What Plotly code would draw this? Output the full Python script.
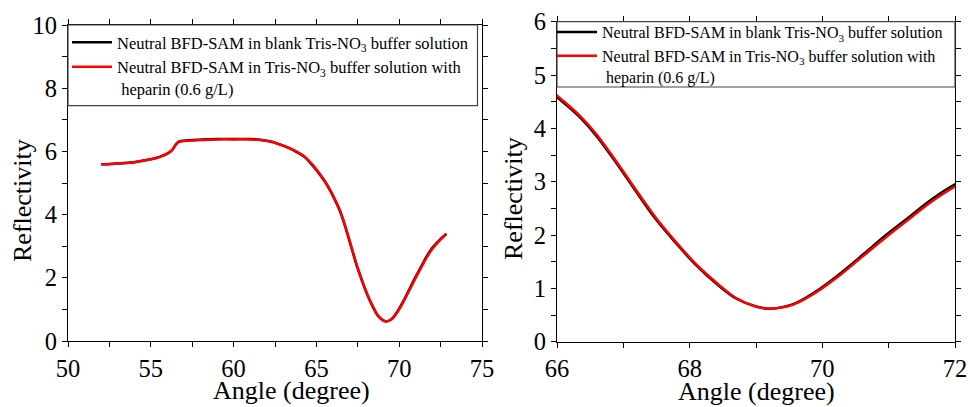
import plotly.graph_objects as go

# ---- data ----
angle = [52.0, 53.0, 54.0, 55.0, 55.5, 56.0, 56.3, 56.5, 56.7, 57.3, 58.0, 59.0, 60.0,
         61.0, 61.6, 62.3, 63.0, 63.6, 64.2, 64.7, 65.1, 65.5, 65.8, 66.1, 66.35, 66.6,
         66.9, 67.2, 67.5, 67.8, 68.1, 68.4, 68.7, 69.0, 69.2, 69.55, 69.9, 70.25, 70.6,
         70.95, 71.3, 71.65, 72.0, 72.4, 72.85]
refl_heparin = [5.59, 5.62, 5.66, 5.75, 5.82, 5.93, 6.05, 6.20, 6.30, 6.34, 6.36, 6.38, 6.38,
                6.38, 6.36, 6.30, 6.18, 6.05, 5.87, 5.62, 5.36, 5.07, 4.81, 4.51, 4.23, 3.88,
                3.37, 2.83, 2.31, 1.86, 1.45, 1.11, 0.82, 0.66, 0.62, 0.69, 0.92, 1.23, 1.59,
                1.95, 2.29, 2.63, 2.91, 3.15, 3.38]
refl_blank = [5.59, 5.62, 5.66, 5.75, 5.82, 5.93, 6.05, 6.21, 6.31, 6.35, 6.37, 6.39, 6.39,
              6.39, 6.37, 6.31, 6.18, 6.04, 5.86, 5.60, 5.34, 5.05, 4.79, 4.48, 4.20, 3.85,
              3.34, 2.80, 2.28, 1.84, 1.43, 1.09, 0.81, 0.66, 0.62, 0.70, 0.94, 1.26, 1.62,
              1.99, 2.33, 2.67, 2.95, 3.18, 3.40]

name_blank = "Neutral BFD-SAM in blank Tris-NO<sub>3</sub> buffer solution"
name_heparin = "Neutral BFD-SAM in Tris-NO<sub>3</sub> buffer solution with<br> heparin (0.6 g/L)"

# tick values / labels
x1_ticks = [50, 52.5, 55, 57.5, 60, 62.5, 65, 67.5, 70, 72.5, 75]
x1_labels = ["50", "", "55", "", "60", "", "65", "", "70", "", "75"]
y1_ticks = [0, 1, 2, 3, 4, 5, 6, 7, 8, 9, 10]
y1_labels = ["0", "", "2", "", "4", "", "6", "", "8", "", "10"]
x2_ticks = [66, 67, 68, 69, 70, 71, 72]
x2_labels = ["66", "", "68", "", "70", "", "72"]
y2_ticks = [0, 0.5, 1, 1.5, 2, 2.5, 3, 3.5, 4, 4.5, 5, 5.5, 6]
y2_labels = ["0", "", "1", "", "2", "", "3", "", "4", "", "5", "", "6"]

FONT = "Liberation Serif"
W, H = 970, 407

def px_x(p):
    return p / W

def px_y(p):
    return 1 - p / H

fig = go.Figure()

line_blank = dict(color="black", width=2.5, shape="spline", smoothing=1.0)
line_hep = dict(color="#ff0000", width=2.5, shape="spline", smoothing=1.0)

# left panel
fig.add_trace(go.Scatter(x=angle, y=refl_blank, mode="lines", name=name_blank, line=line_blank,
                         xaxis="x", yaxis="y", legend="legend"))
fig.add_trace(go.Scatter(x=angle, y=refl_heparin, mode="lines", name=name_heparin, line=line_hep,
                         xaxis="x", yaxis="y", legend="legend"))
# right panel (zoomed view of the same data)
fig.add_trace(go.Scatter(x=angle, y=refl_blank, mode="lines", name=name_blank, line=line_blank,
                         xaxis="x2", yaxis="y2", legend="legend2"))
fig.add_trace(go.Scatter(x=angle, y=refl_heparin, mode="lines", name=name_heparin, line=line_hep,
                         xaxis="x2", yaxis="y2", legend="legend2"))

axis_common = dict(showgrid=False, zeroline=False, showline=True, linecolor="black",
                   linewidth=1.3, mirror="ticks", ticks="outside", ticklen=5,
                   tickwidth=1.2, tickcolor="black",
                   tickfont=dict(family=FONT, size=24.5, color="black"))

L_left, L_right, L_top, L_bot = 68, 482, 25, 341
R_left, R_right, R_top, R_bot = 557, 955, 21.7, 341.7

fig.update_layout(
    width=W, height=H, margin=dict(l=0, r=0, t=0, b=0, autoexpand=False),
    paper_bgcolor="white", plot_bgcolor="white",
    font=dict(family=FONT, color="black"),
    xaxis=dict(domain=[px_x(L_left), px_x(L_right)], range=[50, 75],
               tickmode="array", tickvals=x1_ticks, ticktext=x1_labels, anchor="y", **axis_common),
    yaxis=dict(domain=[px_y(L_bot), px_y(L_top)], range=[0, 10],
               tickmode="array", tickvals=y1_ticks, ticktext=y1_labels, anchor="x", **axis_common),
    xaxis2=dict(domain=[px_x(R_left), px_x(R_right)], range=[66, 72],
                tickmode="array", tickvals=x2_ticks, ticktext=x2_labels, anchor="y2", **axis_common),
    yaxis2=dict(domain=[px_y(R_bot), px_y(R_top)], range=[0, 6],
                tickmode="array", tickvals=y2_ticks, ticktext=y2_labels, anchor="x2", **axis_common),
    legend=dict(x=px_x(67), y=px_y(25), xanchor="left", yanchor="top", valign="top",
                bgcolor="rgba(0,0,0,0)", borderwidth=0, itemwidth=40,
                font=dict(family=FONT, size=16.5, color="black"), tracegroupgap=0),
    legend2=dict(x=px_x(552), y=px_y(15), xanchor="left", yanchor="top", valign="top",
                 bgcolor="rgba(0,0,0,0)", borderwidth=0, itemwidth=40,
                 font=dict(family=FONT, size=16, color="black"), tracegroupgap=0),
    showlegend=True,
)

# legend boxes
fig.add_shape(type="rect", xref="paper", yref="paper",
              x0=px_x(68), x1=px_x(477.5), y0=px_y(105.7), y1=px_y(25),
              line=dict(color="#444444", width=1.2), fillcolor="rgba(0,0,0,0)", layer="above")
fig.add_shape(type="rect", xref="paper", yref="paper",
              x0=px_x(557), x1=px_x(955), y0=px_y(87), y1=px_y(21.7),
              line=dict(color="#444444", width=1.2), fillcolor="rgba(0,0,0,0)", layer="above")

# axis titles
title_font = dict(family=FONT, size=26, color="black")
fig.add_annotation(text="Angle (degree)", xref="paper", yref="paper", x=px_x(291.5), y=px_y(390.5),
                   xanchor="center", yanchor="middle", showarrow=False, font=title_font)
fig.add_annotation(text="Angle (degree)", xref="paper", yref="paper", x=px_x(756.5), y=px_y(391.5),
                   xanchor="center", yanchor="middle", showarrow=False, font=title_font)
fig.add_annotation(text="Reflectivity", xref="paper", yref="paper", x=px_x(23), y=px_y(201),
                   xanchor="center", yanchor="middle", showarrow=False, font=title_font, textangle=-90)
fig.add_annotation(text="Reflectivity", xref="paper", yref="paper", x=px_x(513), y=px_y(199),
                   xanchor="center", yanchor="middle", showarrow=False, font=title_font, textangle=-90)

fig.write_html("out.html")
